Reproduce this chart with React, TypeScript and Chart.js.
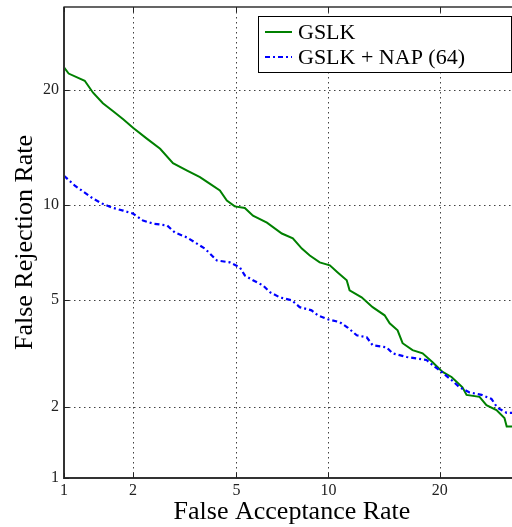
import React, { useEffect, useRef } from "react";
import { Chart, registerables } from "chart.js";

Chart.register(...registerables);

// Axis ticks (percent) and axis range of the DET plot
const TICK_LABELS = [1, 2, 5, 10, 20];
const RATE_MIN = 1;
const RATE_MAX = 30;

// GSLK: false acceptance / false rejection rates (%)
const GSLK_FAR = [
  1.0, 1.05, 1.24, 1.35, 1.49, 1.65, 1.82, 2.0, 2.28, 2.58, 2.9, 3.29, 3.68, 4.0, 4.36, 4.62,
  4.93, 5.35, 5.71, 6.37, 7.14, 7.75, 8.28, 8.77, 9.41, 10.1, 10.66, 11.33, 11.55, 12.5, 13.42,
  14.47, 14.93, 15.67, 16.15, 17.13, 18.16, 19.22, 20.32, 21.33, 22.61, 23.1, 24.69, 25.56,
  26.85, 27.9, 28.2, 30,
];
const GSLK_FRR = [
  22.5, 21.8, 21.0, 19.7, 18.6, 17.8, 17.0, 16.2, 15.2, 14.3, 13.1, 12.5, 12.0, 11.5, 11.0, 10.3,
  9.9, 9.8, 9.3, 8.86, 8.21, 7.93, 7.37, 7.01, 6.66, 6.52, 6.18, 5.82, 5.39, 5.1, 4.72, 4.42,
  4.14, 3.91, 3.51, 3.31, 3.22, 2.98, 2.74, 2.62, 2.39, 2.23, 2.19, 2.03, 1.94, 1.8, 1.66, 1.66,
];

// GSLK + NAP (64): false acceptance / false rejection rates (%)
const NAP_FAR = [
  1.0, 1.12, 1.24, 1.35, 1.48, 1.63, 1.82, 2.0, 2.2, 2.42, 2.75, 2.95, 3.29, 3.52, 3.84, 4.25,
  4.74, 5.14, 5.35, 5.71, 6.17, 6.52, 7.03, 7.69, 8.15, 8.88, 9.28, 9.95, 10.81, 11.4, 12.11,
  12.92, 13.42, 14.65, 15.21, 16.54, 18.57, 19.22, 19.98, 21.33, 22.26, 23.46, 24.94, 26.2,
  26.98, 28.2, 30,
];
const NAP_FRR = [
  12.1, 11.36, 10.85, 10.43, 10.09, 9.82, 9.62, 9.43, 8.99, 8.8, 8.69, 8.27, 7.98, 7.71, 7.37,
  6.76, 6.66, 6.42, 6.04, 5.82, 5.6, 5.31, 5.1, 4.98, 4.72, 4.6, 4.42, 4.28, 4.18, 4.0, 3.75,
  3.69, 3.45, 3.39, 3.22, 3.12, 3.04, 2.91, 2.78, 2.55, 2.39, 2.28, 2.23, 2.15, 1.98, 1.89, 1.89,
];

const SERIES_LABELS = ["GSLK", "GSLK + NAP (64)"];
const FONT = "'Liberation Serif', 'DejaVu Serif', serif";

// Inverse of the standard normal CDF (Acklam's rational approximation)
function probit(p: number): number {
  const a = [-39.69683028665376, 220.9460984245205, -275.9285104469687, 138.357751867269, -30.66479806614716, 2.506628277459239];
  const b = [-54.47609879822406, 161.5858368580409, -155.6989798598866, 66.80131188771972, -13.28068155288572];
  const c = [-0.007784894002430293, -0.3223964580411365, -2.400758277161838, -2.549732539343734, 4.374664141464968, 2.938163982698783];
  const d = [0.007784695709041462, 0.3224671290700398, 2.445134137142996, 3.754408661907416];
  const plow = 0.02425;
  if (p < plow) {
    const q = Math.sqrt(-2 * Math.log(p));
    return (((((c[0] * q + c[1]) * q + c[2]) * q + c[3]) * q + c[4]) * q + c[5]) /
      ((((d[0] * q + d[1]) * q + d[2]) * q + d[3]) * q + 1);
  }
  if (p <= 1 - plow) {
    const q = p - 0.5;
    const r = q * q;
    return ((((((a[0] * r + a[1]) * r + a[2]) * r + a[3]) * r + a[4]) * r + a[5]) * q) /
      (((((b[0] * r + b[1]) * r + b[2]) * r + b[3]) * r + b[4]) * r + 1);
  }
  const q = Math.sqrt(-2 * Math.log(1 - p));
  return -(((((c[0] * q + c[1]) * q + c[2]) * q + c[3]) * q + c[4]) * q + c[5]) /
    ((((d[0] * q + d[1]) * q + d[2]) * q + d[3]) * q + 1);
}

// Percent -> normal deviate (DET axis warping)
const dev = (pct: number) => probit(pct / 100);

const toPoints = (xs: number[], ys: number[]) => xs.map((v, i) => ({ x: dev(v), y: dev(ys[i]) }));

// Dotted grid, axes box, inward ticks and the boxed legend
const detFrame = {
  id: "detFrame",
  beforeDatasetsDraw(chart: any) {
    const { ctx, chartArea: a, scales } = chart;
    const { x, y } = scales;
    ctx.save();
    ctx.strokeStyle = "rgba(0,0,0,0.75)";
    ctx.lineWidth = 1;
    ctx.setLineDash([1.5, 3.5]);
    x.ticks.forEach((t: any) => {
      const px = Math.round(x.getPixelForValue(t.value)) + 0.5;
      if (px <= a.left + 2) return;
      ctx.beginPath();
      ctx.moveTo(px, a.top);
      ctx.lineTo(px, a.bottom);
      ctx.stroke();
    });
    y.ticks.forEach((t: any) => {
      const py = Math.round(y.getPixelForValue(t.value)) + 0.5;
      if (py >= a.bottom - 2) return;
      ctx.beginPath();
      ctx.moveTo(a.left, py);
      ctx.lineTo(a.right, py);
      ctx.stroke();
    });
    ctx.restore();
  },
  afterDatasetsDraw(chart: any) {
    const { ctx, chartArea: a, scales } = chart;
    const { x, y } = scales;
    ctx.save();
    ctx.setLineDash([]);
    // box
    ctx.strokeStyle = "#000";
    ctx.lineWidth = 1.2;
    ctx.strokeRect(a.left, a.top, a.right - a.left, a.bottom - a.top);
    ctx.strokeStyle = "#333";
    ctx.lineWidth = 2;
    ctx.beginPath();
    ctx.moveTo(a.left, a.top);
    ctx.lineTo(a.left, a.bottom);
    ctx.lineTo(a.right, a.bottom);
    ctx.stroke();
    // inward ticks
    ctx.strokeStyle = "#222";
    ctx.lineWidth = 1;
    const tl = 5;
    x.ticks.forEach((t: any) => {
      const px = Math.round(x.getPixelForValue(t.value)) + 0.5;
      ctx.beginPath();
      ctx.moveTo(px, a.bottom);
      ctx.lineTo(px, a.bottom - tl);
      ctx.moveTo(px, a.top);
      ctx.lineTo(px, a.top + tl);
      ctx.stroke();
    });
    y.ticks.forEach((t: any) => {
      const py = Math.round(y.getPixelForValue(t.value)) + 0.5;
      ctx.beginPath();
      ctx.moveTo(a.left, py);
      ctx.lineTo(a.left + tl, py);
      ctx.moveTo(a.right, py);
      ctx.lineTo(a.right - tl, py);
      ctx.stroke();
    });
    // legend
    const boxW = 253;
    const boxH = 56;
    const bx = a.right - 9 - boxW;
    const by = a.top + 9;
    ctx.fillStyle = "#fff";
    ctx.fillRect(bx, by, boxW, boxH);
    ctx.strokeStyle = "#000";
    ctx.lineWidth = 1;
    ctx.strokeRect(Math.round(bx) + 0.5, Math.round(by) + 0.5, boxW, boxH);
    ctx.font = `22px ${FONT}`;
    ctx.textBaseline = "alphabetic";
    ctx.textAlign = "left";
    chart.data.datasets.forEach((ds: any, i: number) => {
      const rowY = by + 16 + i * 25;
      ctx.strokeStyle = ds.borderColor;
      ctx.lineWidth = ds.borderWidth;
      ctx.setLineDash(ds.borderDash || []);
      ctx.beginPath();
      ctx.moveTo(bx + 7, rowY);
      ctx.lineTo(bx + 34, rowY);
      ctx.stroke();
      ctx.setLineDash([]);
      ctx.fillStyle = "#000";
      ctx.fillText(ds.label, bx + 40, rowY + 7);
    });
    ctx.restore();
  },
};

export default function App() {
  const canvasRef = useRef<HTMLCanvasElement | null>(null);

  useEffect(() => {
    const canvas = canvasRef.current;
    if (!canvas) return;
    const tickFont = { family: FONT, size: 16 };
    const titleFont = { family: FONT, size: 26, lineHeight: 1 };
    const setTicks = (scale: any) => {
      scale.ticks = TICK_LABELS.map((v) => ({ value: dev(v) }));
    };
    const chart = new Chart(canvas, {
      type: "line",
      data: {
        datasets: [
          {
            label: SERIES_LABELS[0],
            data: toPoints(GSLK_FAR, GSLK_FRR),
            borderColor: "#008000",
            borderWidth: 2,
            pointRadius: 0,
            fill: false,
            tension: 0,
            order: 1,
          },
          {
            label: SERIES_LABELS[1],
            data: toPoints(NAP_FAR, NAP_FRR),
            borderColor: "#0000ff",
            borderWidth: 2.2,
            borderDash: [5, 3, 2, 3],
            pointRadius: 0,
            fill: false,
            tension: 0,
            order: 0,
          },
        ],
      },
      options: {
        animation: false,
        responsive: false,
        devicePixelRatio: 1,
        parsing: false as any,
        layout: { padding: { top: 7, right: 10, left: 0, bottom: 0 } },
        plugins: { legend: { display: false }, tooltip: { enabled: false } },
        scales: {
          x: {
            type: "linear",
            min: dev(RATE_MIN),
            max: dev(RATE_MAX),
            afterBuildTicks: setTicks,
            afterFit: (s: any) => {
              s.height = 49;
              s.paddingLeft = 0;
              s.paddingRight = 0;
            },
            grid: { display: false, drawTicks: false },
            border: { display: false },
            ticks: {
              autoSkip: false,
              maxRotation: 0,
              padding: 3,
              color: "#222",
              font: tickFont,
              callback: (_v: any, i: number) => String(TICK_LABELS[i]),
            },
            title: {
              display: true,
              text: "False Acceptance Rate",
              color: "#000",
              font: titleFont,
              padding: { top: 0, bottom: 2 },
            },
          },
          y: {
            type: "linear",
            min: dev(RATE_MIN),
            max: dev(RATE_MAX),
            afterBuildTicks: setTicks,
            afterFit: (s: any) => {
              s.width = 64;
              s.paddingTop = 0;
              s.paddingBottom = 0;
            },
            grid: { display: false, drawTicks: false },
            border: { display: false },
            ticks: {
              autoSkip: false,
              padding: 5,
              color: "#222",
              font: tickFont,
              callback: (_v: any, i: number) => String(TICK_LABELS[i]),
            },
            title: {
              display: true,
              text: "False Rejection Rate",
              color: "#000",
              font: titleFont,
              padding: { top: 12, bottom: 0 },
            },
          },
        },
      },
      plugins: [detFrame],
    });
    return () => chart.destroy();
  }, []);

  return (
    <div
      style={{
        position: "fixed",
        left: 0,
        top: 0,
        width: 512,
        height: 527,
        overflow: "hidden",
        background: "#fff",
      }}
    >
      <canvas ref={canvasRef} width={530} height={527} style={{ display: "block", width: 530, height: 527 }} />
    </div>
  );
}
